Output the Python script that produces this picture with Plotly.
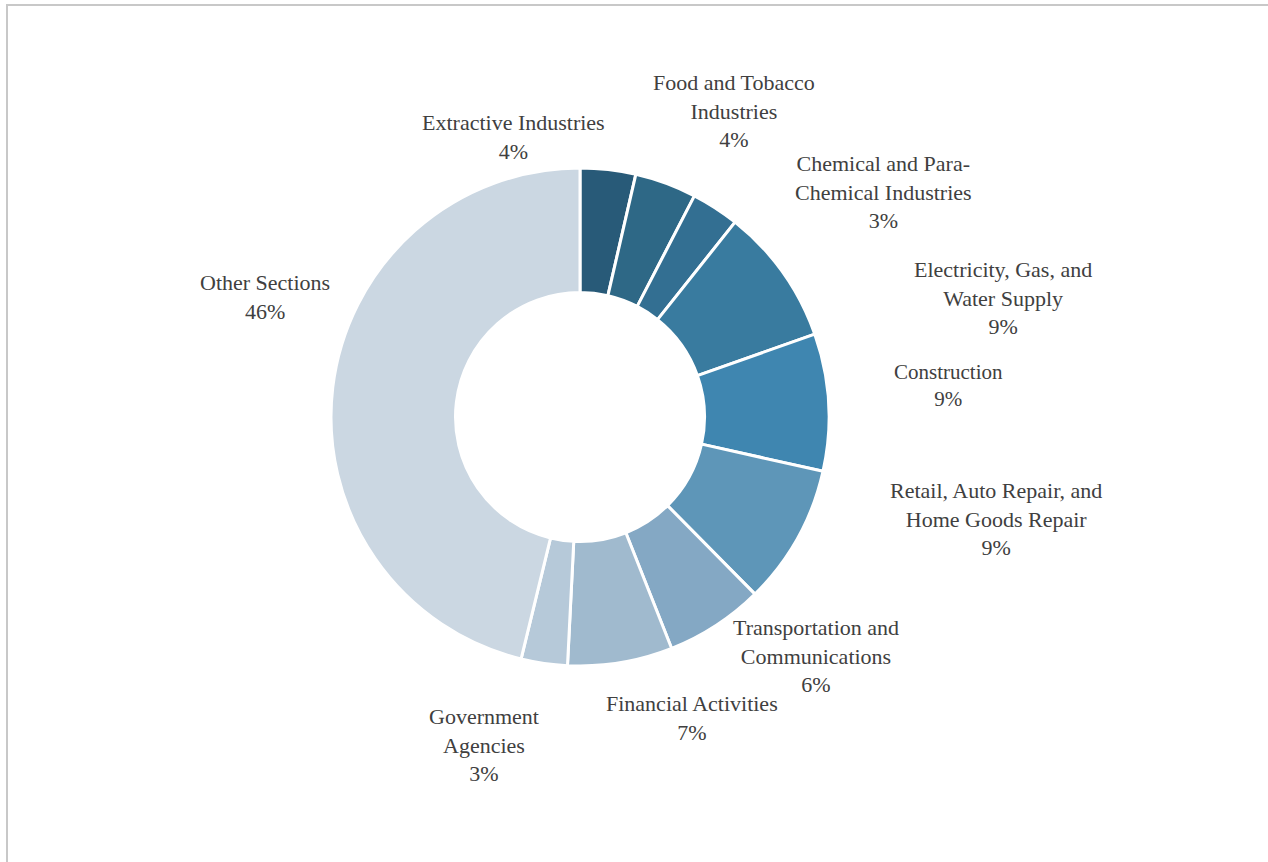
import plotly.graph_objects as go

W, H = 1268, 862

# ---- data ----
sectors = [
    "Extractive Industries",
    "Food and Tobacco<br>Industries",
    "Chemical and Para-<br>Chemical Industries",
    "Electricity, Gas, and<br>Water Supply",
    "Construction",
    "Retail, Auto Repair, and<br>Home Goods Repair",
    "Transportation and<br>Communications",
    "Financial Activities",
    "Government<br>Agencies",
    "Other Sections",
]
shares = [3.6, 4.0, 3.1, 8.9, 8.9, 9.1, 6.4, 6.8, 3.0, 46.2]
colors = ["#285a78", "#2e6886", "#336f92", "#397b9f", "#3f86b0",
          "#5e96b8", "#84a8c4", "#a0bace", "#b6c9d9", "#cbd7e2"]

# ---- label placement (pixel centres of the label blocks) ----
label_px = [(513, 137), (734, 111), (883, 192), (1003, 298), (948, 386),
            (996, 519), (816, 656), (692, 718), (484, 745), (265, 297)]
label_size = [22, 22, 22, 22, 21, 22, 22, 22, 22, 22]

cx, cy, R = 580, 417, 249

fig = go.Figure(go.Pie(
    labels=[s.replace("<br>", " ") for s in sectors],
    values=shares,
    marker=dict(colors=colors, line=dict(color="white", width=3)),
    hole=0.5,
    sort=False,
    direction="clockwise",
    rotation=0,
    textinfo="none",
    showlegend=False,
    domain=dict(x=[(cx - R) / W, (cx + R) / W],
                y=[(H - cy - R) / H, (H - cy + R) / H]),
))

total = sum(shares)
annotations = []
for name, v, (px, py), fs in zip(sectors, shares, label_px, label_size):
    pct = round(v / total * 100)
    annotations.append(dict(
        x=px / W, y=1 - py / H, xref="paper", yref="paper",
        xanchor="center", yanchor="middle", showarrow=False,
        text=f"{name}<br>{pct}%", align="center",
        font=dict(family="Liberation Serif, Times New Roman, serif",
                  size=fs, color="#404040"),
    ))

shapes = [
    dict(type="line", xref="paper", yref="paper",
         x0=7 / W, x1=7 / W, y0=0, y1=1 - 5 / H,
         line=dict(color="#c8c8c8", width=2)),
    dict(type="line", xref="paper", yref="paper",
         x0=6 / W, x1=1, y0=1 - 5 / H, y1=1 - 5 / H,
         line=dict(color="#c8c8c8", width=2)),
]

fig.update_layout(
    width=W, height=H,
    margin=dict(l=0, r=0, t=0, b=0),
    paper_bgcolor="white", plot_bgcolor="white",
    annotations=annotations, shapes=shapes,
    font=dict(family="Liberation Serif, Times New Roman, serif", color="#404040"),
)

fig.write_html("out.html")
